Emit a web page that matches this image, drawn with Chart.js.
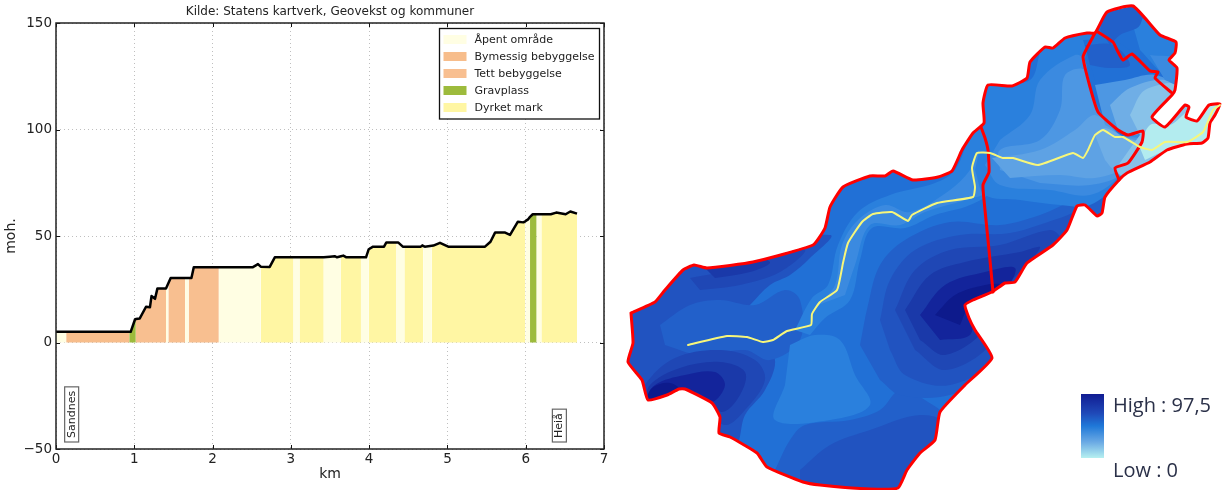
<!DOCTYPE html>
<html>
<head>
<meta charset="utf-8">
<title>Høydeprofil</title>
<script src="https://cdn.jsdelivr.net/npm/chart.js@4/dist/chart.umd.min.js"></script>
<style>
  html, body { margin: 0; padding: 0; background: #fff; }
  body { width: 1225px; height: 490px; position: relative; overflow: hidden; }
  canvas { position: absolute; top: 0; filter: blur(0.4px); }
  #profile { left: 0; }
  #map { left: 620px; }
  #scaleBar { position: absolute; left: 1081px; top: 394px; width: 23px; height: 64px;
    background: linear-gradient(#111c92, #1f49b8 30%, #1f78d8 50%, #6aa9e4 75%, #b6f0f0); }
  .scaleText { position: absolute; left: 1113px; font: 20px "Open Sans", sans-serif; color: #2a3048; white-space: nowrap; filter: blur(0.3px); }
</style>
</head>
<body>
<canvas id="profile" width="620" height="490"></canvas>
<canvas id="map" width="605" height="490"></canvas>
<div id="scaleBar"></div>
<div class="scaleText" style="top:391px">High : 97,5</div>
<div class="scaleText" style="top:456px">Low : 0</div>
<script>
const landUseNames = ['Åpent område', 'Bymessig bebyggelse', 'Tett bebyggelse', 'Gravplass', 'Dyrket mark'];
const landUseColors = ['#fffee3', '#f7bd8b', '#f8bf90', '#9dbb3c', '#fff6a3'];

const profileKm = [0, 0.13, 0.935, 0.954, 1.01, 1.02, 1.07, 1.15, 1.2, 1.22, 1.265, 1.295, 1.405, 1.435, 1.465, 1.65, 1.695, 1.73, 1.76,
  2.08, 2.51, 2.58, 2.615, 2.73, 2.795, 3.035, 3.11, 3.42, 3.5, 3.56, 3.59, 3.64, 3.67, 3.71, 3.895, 3.96, 3.995,
  4.05, 4.19, 4.22, 4.35, 4.37, 4.43, 4.45, 4.66, 4.68, 4.69, 4.71, 4.8, 4.82, 4.905, 5.01, 5.48, 5.55, 5.61, 5.73, 5.8,
  5.9, 5.97, 5.995, 6.03, 6.055, 6.09, 6.14, 6.2, 6.32, 6.39, 6.51, 6.57, 6.655];
const profileMoh = [5, 5, 5, 5, 10.9, 11, 11.3, 16.8, 16.5, 21.8, 20.5, 25.3, 25.3, 27.8, 30.3, 30.3, 30.3, 30.3, 35.3,
  35.3, 35.3, 36.8, 35.6, 35.5, 40, 40, 40, 40, 40.3, 40.5, 40, 40.5, 40.8, 40, 40, 40, 43.8,
  45, 45, 47, 47, 47, 45, 45, 45, 45.6, 45.3, 45, 45.4, 45.5, 46.8, 45, 45, 47.3, 51.7, 51.7, 50.5,
  56.7, 56.4, 56.9, 57.8, 59, 60.2, 60.2, 60.2, 60.2, 61, 60.2, 61.5, 60.5];
// land use of the stretch starting at each profile point (index into landUseNames)
const profileUse = [0, 1, 3, 3, 3, 2, 2, 2, 2, 2, 2, 2, 0, 2, 2, 0, 2, 2, 2,
  0, 0, 0, 4, 4, 4, 0, 4, 0, 0, 0, 0, 4, 4, 4, 0, 0, 4,
  4, 4, 4, 0, 0, 0, 4, 4, 4, 0, 0, 4, 4, 4, 4, 4, 4, 4, 4, 4,
  4, 4, 0, 0, 3, 3, 0, 4, 4, 4, 4, 4, 4];

const placeNames = ['Sandnes', 'Heiå'];
const placeKm = [0.2, 6.43];

const xTicksKm = [0, 1, 2, 3, 4, 5, 6, 7];

// map
const outline = [[631,313],[655,302],[665,290],[683,270],[694,265],[707,268],[753,262],[813,245],[825,228],[830,207],[843,187],[870,176],
  [885,176],[893,171],[913,180],[938,177],[952,171],[962,150],[973,133],[984,123],[983,103],[988,85],[1012,86],[1027,78],[1030,62],[1045,47],
  [1053,48],[1065,38],[1087,33],[1095,33],[1107,12],[1133,6],[1160,35],[1176,42],[1175,53],[1169,60],[1177,68],[1175,90],[1172,95],[1152,117],
  [1165,127],[1185,105],[1189,107],[1186,117],[1197,121],[1209,105],[1220,104],[1215,115],[1210,123],[1208,138],[1202,143],[1187,144],[1167,150],
  [1150,162],[1127,173],[1119,180],[1105,197],[1102,213],[1097,216],[1085,205],[1077,206],[1067,230],[1053,245],[1027,263],[1015,282],[1005,283],
  [992,292],[973,300],[965,305],[969,318],[975,330],[992,358],[965,385],[940,412],[935,440],[920,453],[907,470],[898,488],[870,489],[820,485],
  [803,482],[767,467],[757,453],[730,437],[719,433],[720,417],[712,403],[685,389],[679,389],[667,395],[648,400],[642,380],[628,362],[633,343],[631,313]];
const divideWest = [[981,127],[985,138],[988,150],[989,172],[983,185],[985,210],[989,250],[993,292]];
const divideEast = [[1095,33],[1087,48],[1083,57],[1090,87],[1098,112],[1118,130],[1128,135],[1143,131],[1142,142],[1128,163],[1115,168],[1119,180]];
const divideNorth = [[1098,32],[1113,42],[1117,50],[1123,60],[1132,54],[1150,71],[1158,72],[1155,78],[1172,93]];
const river = [[688,345],[727,336],[747,337],[763,342],[773,340],[787,331],[811,325],[812,314],[820,302],[837,290],[843,263],[848,243],[862,222],
  [873,214],[892,212],[908,221],[912,215],[937,203],[973,197],[975,187],[972,168],[977,153],[990,153],[1003,158],[1013,158],[1038,165],[1073,153],
  [1083,158],[1088,150],[1095,135],[1103,130],[1115,137],[1123,137],[1140,147],[1152,150],[1165,142],[1187,142],[1203,132],[1213,110],[1220,105]];

// height zones in paint order, each with its height level
const zoneLevels = [75, 70, 80, 85, 80, 85, 90, 97, 60, 70, 75,
  70, 75, 80, 85, 90, 97, 60, 55, 60, 55, 50, 45, 40,
  65, 70, 50, 40, 35, 35, 20, 60, 70, 55];
const zoneRings = [
  // west lobe
  [[620,300],[700,250],[830,235],[810,258],[790,275],[770,285],[750,305],[735,320],[760,345],[775,360],[765,390],[745,415],[735,445],[700,425],[640,415],[620,380]],
  [[660,325],[690,305],[720,300],[755,305],[785,290],[800,300],[800,340],[770,360],[745,350],[700,355],[665,345]],
  [[690,278],[720,272],[760,258],[805,250],[780,272],[740,285],[700,290]],
  [[705,268],[760,258],[770,263],[750,272],[715,278]],
  [[640,410],[645,385],[675,358],[720,350],[755,360],[765,380],[745,410],[725,425],[700,405],[670,398]],
  [[645,405],[650,385],[680,368],[720,362],[745,372],[740,395],[722,412],[700,395],[670,396]],
  [[645,403],[655,385],[685,375],[715,372],[725,385],[712,402],[695,392],[670,396]],
  [[645,403],[652,388],[670,383],[682,392],[665,397]],
  // centre and south
  [[790,345],[815,335],[840,340],[855,375],[870,405],[830,420],[775,420],[785,385]],
  [[775,470],[790,440],[805,425],[850,420],[880,410],[900,390],[925,400],[945,420],[900,500],[780,500]],
  [[800,470],[830,445],[870,430],[920,415],[945,425],[900,495],[800,495]],
  // dark slope east of the centre
  [[860,345],[868,305],[880,265],[905,240],[950,222],[1000,225],[1040,215],[1075,200],[1110,190],[1115,215],[1060,260],[1000,320],[1010,365],[950,395],[900,395],[880,380]],
  [[880,320],[890,280],[915,250],[960,235],[1010,233],[1060,218],[1085,210],[1070,240],[1000,310],[1000,355],[950,385],[905,375],[890,350]],
  [[895,310],[915,270],[950,250],[1000,245],[1050,230],[1060,240],[1000,305],[990,345],[945,370],[915,350]],
  [[905,310],[930,275],[965,262],[1020,252],[1040,248],[1000,295],[985,330],[945,355],[920,340]],
  [[920,315],[945,285],[985,272],[1015,268],[1005,290],[975,310],[970,335],[940,340]],
  [[935,315],[955,295],[985,285],[1000,285],[970,305],[960,325]],
  // along the river
  [[795,330],[812,298],[828,285],[838,245],[858,212],[890,195],[935,183],[955,170],[973,130],[985,125],[990,190],[970,205],[935,215],[905,228],[872,228],[860,260],[850,300],[825,318],[810,335]],
  [[818,305],[835,285],[842,245],[858,220],[885,205],[910,212],[950,190],[970,170],[980,150],[988,190],[965,200],[925,212],[900,225],[870,225],[855,265],[845,295]],
  // upper east
  [[985,125],[985,85],[1030,80],[1045,45],[1095,30],[1085,60],[1095,100],[1120,135],[1145,135],[1120,180],[1090,205],[1060,205],[1020,200],[985,195],[975,170]],
  [[1000,140],[1030,115],[1040,80],[1075,55],[1085,60],[1092,100],[1120,135],[1140,135],[1120,175],[1090,195],[1050,190],[1000,185],[985,165]],
  [[1000,170],[1000,150],[1040,140],[1060,110],[1065,75],[1085,70],[1095,105],[1120,135],[1140,140],[1125,172],[1090,185],[1040,183]],
  [[992,158],[1040,150],[1075,130],[1095,115],[1120,135],[1145,145],[1130,165],[1095,178],[1060,175],[1010,178]],
  [[1095,135],[1105,128],[1125,138],[1145,145],[1128,165],[1115,170],[1105,160]],
  // north east
  [[1083,40],[1115,40],[1155,80],[1120,85],[1095,80]],
  [[1085,45],[1113,45],[1130,65],[1110,68],[1090,65]],
  [[1095,85],[1125,80],[1155,75],[1180,90],[1150,120],[1130,135],[1105,125]],
  [[1110,105],[1130,88],[1165,80],[1180,95],[1150,125],[1135,135],[1118,130]],
  [[1130,115],[1145,90],[1180,85],[1150,125],[1140,135]],
  [[1115,170],[1140,135],[1155,118],[1230,95],[1230,170],[1130,185]],
  [[1140,148],[1150,125],[1170,125],[1190,110],[1230,95],[1230,150],[1170,150],[1145,160]],
  [[1130,15],[1180,35],[1185,80],[1165,75],[1140,50]],
  [[1100,30],[1108,5],[1140,0],[1140,25],[1120,35],[1110,45]],
  [[1150,55],[1180,60],[1180,85],[1165,80]]
];

const levelColors = { 20: '#b3ecef', 30: '#9cd6ec', 35: '#88c2e9', 40: '#6faee6', 45: '#5ea2e4', 50: '#4d97e3', 55: '#3b8ae0', 60: '#2a80dd',
  65: '#2170d6', 70: '#2260ca', 75: '#2153c0', 80: '#1f47b5', 85: '#1a39a9', 90: '#13249b', 97: '#0d1a8c' };
const baseLevel = 65;

const font = 'DejaVu Sans';

// frame, inward ticks, place names and legend on top of the plot
const profileExtras = {
  id: 'profileExtras',
  afterDraw(chart) {
    const { ctx, chartArea: a, scales: { x, y } } = chart;
    ctx.save();
    ctx.strokeStyle = '#111';
    ctx.lineWidth = 1;
    x.ticks.forEach((t, i) => {
      const px = Math.round(x.getPixelForTick(i)) + 0.5;
      ctx.beginPath();
      ctx.moveTo(px, a.top); ctx.lineTo(px, a.top + 4);
      ctx.moveTo(px, a.bottom); ctx.lineTo(px, a.bottom - 4);
      ctx.stroke();
    });
    y.ticks.forEach((t, i) => {
      const py = Math.round(y.getPixelForTick(i)) + 0.5;
      ctx.beginPath();
      ctx.moveTo(a.left, py); ctx.lineTo(a.left + 4, py);
      ctx.moveTo(a.right, py); ctx.lineTo(a.right - 4, py);
      ctx.stroke();
    });
    ctx.strokeStyle = '#222';
    ctx.lineWidth = 1.5;
    ctx.strokeRect(a.left, a.top, a.right - a.left, a.bottom - a.top);

    // rotated place names
    ctx.font = '11px "' + font + '"';
    placeNames.forEach((name, i) => {
      const w = ctx.measureText(name).width;
      const cx = x.getPixelForValue(placeKm[i]);
      const bottom = a.bottom - 7;
      ctx.fillStyle = '#fff';
      ctx.strokeStyle = '#666';
      ctx.lineWidth = 1.2;
      ctx.fillRect(cx - 7, bottom - w - 8, 14, w + 8);
      ctx.strokeRect(cx - 7, bottom - w - 8, 14, w + 8);
      ctx.save();
      ctx.translate(cx, bottom - 4);
      ctx.rotate(-Math.PI / 2);
      ctx.fillStyle = '#222';
      ctx.textAlign = 'left';
      ctx.textBaseline = 'middle';
      ctx.fillText(name, 0, 0);
      ctx.restore();
    });

    // legend box
    const lx = 439.5, ly = 28.5, lw = 160, lh = 90.5;
    ctx.fillStyle = '#fff';
    ctx.fillRect(lx, ly, lw, lh);
    ctx.strokeStyle = '#111';
    ctx.lineWidth = 1.3;
    ctx.strokeRect(lx, ly, lw, lh);
    landUseNames.forEach((name, i) => {
      const ry = 39.5 + i * 17;
      ctx.fillStyle = landUseColors[i];
      ctx.fillRect(443.5, ry - 4.5, 23, 9);
      ctx.fillStyle = '#222';
      ctx.textAlign = 'left';
      ctx.textBaseline = 'middle';
      ctx.fillText(name, 474.5, ry + 1);
    });
    ctx.restore();
  }
};

const profilePoints = profileKm.map((km, i) => ({ x: km, y: profileMoh[i] }));

new Chart(document.getElementById('profile'), {
  type: 'line',
  data: {
    datasets: [
      { label: 'Høyde', data: profilePoints, borderColor: '#000', borderWidth: 2.5, pointRadius: 0, fill: false, tension: 0, order: 0, borderJoinStyle: 'round' },
      {
        label: 'Arealbruk', data: profilePoints, borderWidth: 0, pointRadius: 0, tension: 0, order: 1,
        borderColor: 'transparent', backgroundColor: landUseColors[0], fill: 'origin',
        segment: { backgroundColor: c => landUseColors[profileUse[c.p0DataIndex]] }
      }
    ]
  },
  options: {
    responsive: false,
    animation: false,
    layout: { padding: { right: 16, left: 0, top: 0, bottom: 0 } },
    plugins: {
      legend: { display: false },
      tooltip: { enabled: false },
      title: {
        display: true,
        fullSize: false,
        text: 'Kilde: Statens kartverk, Geovekst og kommuner',
        color: '#222',
        font: { family: font, size: 12, weight: 'normal' },
        padding: { top: 5, bottom: 3.6 }
      }
    },
    scales: {
      x: {
        type: 'linear', min: 0, max: 7,
        afterBuildTicks: s => { s.ticks = xTicksKm.map(v => ({ value: v })); },
        afterFit: s => { s.height = 41; },
        grid: { color: 'rgba(0,0,0,0.25)', drawTicks: false, lineWidth: 1 },
        border: { display: false, dash: [1, 3] },
        ticks: { color: '#222', font: { family: font, size: 13.5 }, padding: 2, maxRotation: 0 },
        title: { display: true, text: 'km', color: '#222', font: { family: font, size: 14 }, padding: { top: 0, bottom: 7 } }
      },
      y: {
        min: -50, max: 150,
        afterFit: s => { s.width = 56; },
        grid: { color: 'rgba(0,0,0,0.25)', drawTicks: false, lineWidth: 1 },
        border: { display: false, dash: [1, 3] },
        ticks: { stepSize: 50, color: '#222', font: { family: font, size: 13.5 }, padding: 4, callback: v => String(v).replace('-', '\u2212') },
        title: { display: true, text: 'moh.', color: '#222', font: { family: font, size: 14 }, padding: { top: 3, bottom: 0 } }
      }
    }
  },
  plugins: [profileExtras]
});

const toPoints = ring => ring.map(p => ({ x: p[0], y: p[1] }));

// height zones only show inside the outline
const zoneCount = zoneRings.length + 1;
const outlineClip = {
  id: 'outlineClip',
  beforeDatasetsDraw(chart) {
    const { ctx, scales: { x, y } } = chart;
    ctx.save();
    ctx.beginPath();
    outline.forEach((p, i) => {
      const px = x.getPixelForValue(p[0]), py = y.getPixelForValue(p[1]);
      if (i === 0) ctx.moveTo(px, py); else ctx.lineTo(px, py);
    });
    ctx.closePath();
    ctx.clip();
  },
  afterDatasetDraw(chart, args) {
    if (args.index === zoneCount - 1) chart.ctx.restore();
  }
};

const zoneSets = [{ data: toPoints(outline), backgroundColor: levelColors[baseLevel], tension: 0 }]
  .concat(zoneRings.map((ring, i) => ({ data: toPoints(ring), backgroundColor: levelColors[zoneLevels[i]], tension: 0.35 })))
  .map(d => ({ ...d, showLine: true, fill: 'shape', borderWidth: 0, pointRadius: 0 }));

const lineSets = [outline, divideWest, divideEast, divideNorth].map(l => ({
  data: toPoints(l), showLine: true, fill: false, borderColor: '#ff0000', borderWidth: 3, pointRadius: 0, tension: 0.15, borderJoinStyle: 'round', borderCapStyle: 'round'
}));
lineSets.push({ data: toPoints(river), showLine: true, fill: false, borderColor: '#f7f77a', borderWidth: 2, pointRadius: 0, tension: 0.15, borderJoinStyle: 'round', borderCapStyle: 'round' });

const mapSets = zoneSets.concat(lineSets);
mapSets.forEach((d, i) => { d.order = mapSets.length - i; });

new Chart(document.getElementById('map'), {
  type: 'scatter',
  data: { datasets: mapSets },
  options: {
    responsive: false,
    animation: false,
    layout: { padding: 0 },
    plugins: { legend: { display: false }, tooltip: { enabled: false } },
    scales: {
      x: { type: 'linear', min: 620, max: 1225, display: false },
      y: { type: 'linear', min: 0, max: 490, reverse: true, display: false }
    }
  },
  plugins: [outlineClip]
});
</script>
</body>
</html>
